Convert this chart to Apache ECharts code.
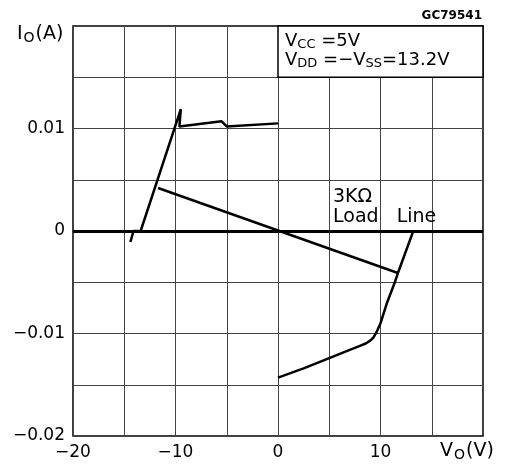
<!DOCTYPE html>
<html>
<head>
<meta charset="utf-8">
<script src="https://cdn.jsdelivr.net/npm/echarts@6/dist/echarts.min.js"></script>
<style>
html,body{margin:0;padding:0;background:#fff;}
#c{width:507px;height:473px;}
</style>
</head>
<body>
<div id="c"></div>
<script>
// Upper-left curve (negative output swing): V_O (V), I_O (A)
var negV = [-14.4, -14.1, -13.4, -9.48, -9.62, -5.5, -5.0, 0.0];
var negI = [-0.00107, 0.0, 0.0, 0.0119, 0.0102, 0.0107, 0.0102, 0.0105];
// Lower-right curve (positive output swing)
var posV = [0.0, 2.5, 5.0, 7.0, 8.0, 8.6, 9.0, 9.3, 9.6, 10.0, 10.6, 11.4, 11.7, 13.2];
var posI = [-0.0143, -0.0134, -0.0124, -0.0116, -0.0112, -0.01095, -0.0107, -0.0104, -0.0099, -0.0090, -0.0071, -0.0050, -0.0041, 0.0];
// 3 kOhm load line
var loadV = [-11.7, 11.7];
var loadI = [0.0042, -0.0041];
// Axis tick labels
var xTicks = [-20, -10, 0, 10];
var xTickLabels = ['\u221220', '\u221210', '0', '10'];
var yTicks = [0.01, 0, -0.01, -0.02];
var yTickLabels = ['0.01', '0', '\u22120.01', '\u22120.02'];

function pairs(a, b) { return a.map(function (v, i) { return [v, b[i]]; }); }

var FONT = 'DejaVu Sans';
var chart = echarts.init(document.getElementById('c'), null, { renderer: 'canvas' });

chart.setOption({
  animation: false,
  backgroundColor: '#fff',
  textStyle: { fontFamily: FONT },
  grid: { left: 73, right: 24, top: 26, bottom: 37, show: true, borderColor: '#000', borderWidth: 1.5, backgroundColor: 'transparent' },
  xAxis: {
    type: 'value', min: -20, max: 20, interval: 5,
    axisLine: { show: false }, axisTick: { show: false },
    splitLine: { show: true, lineStyle: { color: '#444', width: 1 } },
    axisLabel: {
      margin: 8, color: '#000', fontFamily: FONT, fontSize: 17,
      formatter: function (v) {
        for (var i = 0; i < xTicks.length; i++) if (Math.abs(v - xTicks[i]) < 1e-9) return xTickLabels[i];
        return '';
      }
    }
  },
  yAxis: {
    type: 'value', min: -0.02, max: 0.02, interval: 0.005,
    axisLine: { show: false }, axisTick: { show: false },
    splitLine: { show: true, lineStyle: { color: '#444', width: 1 } },
    axisLabel: {
      margin: 8, color: '#000', fontFamily: FONT, fontSize: 17,
      formatter: function (v) {
        for (var i = 0; i < yTicks.length; i++) if (Math.abs(v - yTicks[i]) < 1e-9) return yTickLabels[i];
        return '';
      }
    }
  },
  series: [
    {
      type: 'line', data: [], silent: true,
      markArea: {
        silent: true,
        itemStyle: { color: '#fff', borderColor: '#000', borderWidth: 1.5 },
        data: [[{ coord: [0, 0.015] }, { coord: [20, 0.02] }]]
      },
      markLine: {
        silent: true, symbol: 'none', label: { show: false },
        lineStyle: { color: '#000', width: 3, type: 'solid' },
        data: [{ yAxis: 0 }]
      }
    },
    { type: 'line', data: pairs(negV, negI), showSymbol: false, symbol: 'none', lineStyle: { color: '#000', width: 2.5 }, z: 5 },
    { type: 'line', data: pairs(posV, posI), showSymbol: false, symbol: 'none', lineStyle: { color: '#000', width: 2.5, join: 'round' }, z: 5 },
    { type: 'line', data: pairs(loadV, loadI), showSymbol: false, symbol: 'none', lineStyle: { color: '#000', width: 2.5 }, z: 5 }
  ],
  graphic: [
    { type: 'text', left: 17, top: 25, z: 10, style: { text: '{m|I}{s|O}{m|(A)}', rich: { m: { fontSize: 19, fontFamily: FONT, fill: '#000' }, s: { fontSize: 14, fontFamily: FONT, fill: '#000', padding: [8, 1, 0, 1] } } } },
    { type: 'text', right: 25, top: 10, z: 10, style: { text: 'GC79541', fontSize: 12, fontWeight: 'bold', fontFamily: FONT, fill: '#000' } },
    { type: 'text', left: 285, top: 32, z: 10, style: { text: '{m|V}{s|CC}{m| =5V}', rich: { m: { fontSize: 18, fontFamily: FONT, fill: '#000' }, s: { fontSize: 13, fontFamily: FONT, fill: '#000', padding: [8, 0, 0, 0] } } } },
    { type: 'text', left: 285, top: 51, z: 10, style: { text: '{m|V}{s|DD}{m| =\u2212V}{s|SS}{m|=13.2V}', rich: { m: { fontSize: 18, fontFamily: FONT, fill: '#000' }, s: { fontSize: 13, fontFamily: FONT, fill: '#000', padding: [8, 0, 0, 0] } } } },
    { type: 'text', left: 333, top: 187, z: 10, style: { text: '3K\u03A9\nLoad   Line', fontSize: 19, lineHeight: 20, fontFamily: FONT, fill: '#000' } },
    { type: 'text', left: 440, top: 442, z: 10, style: { text: '{m|V}{s|O}{m|(V)}', rich: { m: { fontSize: 19, fontFamily: FONT, fill: '#000' }, s: { fontSize: 14, fontFamily: FONT, fill: '#000', padding: [8, 1, 0, 1] } } } }
  ]
});
</script>
</body>
</html>
